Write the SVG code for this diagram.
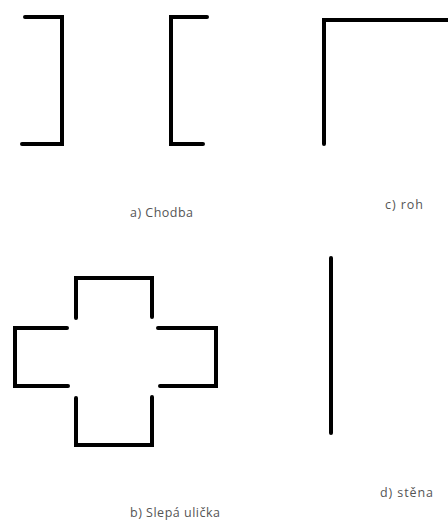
<svg xmlns="http://www.w3.org/2000/svg" width="448" height="523" viewBox="0 0 448 523">
<style>
.w{fill:none;stroke:#000;stroke-width:4;stroke-linecap:round;stroke-linejoin:miter}
.t{font-family:"Open Sans","Liberation Sans",sans-serif;font-size:12.5px;fill:#555}
</style>
<rect width="448" height="523" fill="#fff"/>
<g id="chodba">
<path class="w" d="M25 17H62V144H22"/>
<path class="w" d="M207 17H171V144H203"/>
<text class="t" x="130" y="217" textLength="63">a) Chodba</text>
</g>
<g id="roh">
<path class="w" d="M324 144V20H450"/>
<text class="t" x="385" y="209" textLength="38">c) roh</text>
</g>
<g id="slepa">
<path class="w" d="M76 318V278H152V317"/>
<path class="w" d="M67 328H15V386H68"/>
<path class="w" d="M158 328H216V386H160"/>
<path class="w" d="M76 398V445H152V397"/>
<text class="t" x="130" y="517" textLength="90">b) Slepá ulička</text>
</g>
<g id="stena">
<path class="w" d="M331 258V433"/>
<text class="t" x="380" y="497" textLength="53">d) stěna</text>
</g>
<g id="connectors"></g>
</svg>
